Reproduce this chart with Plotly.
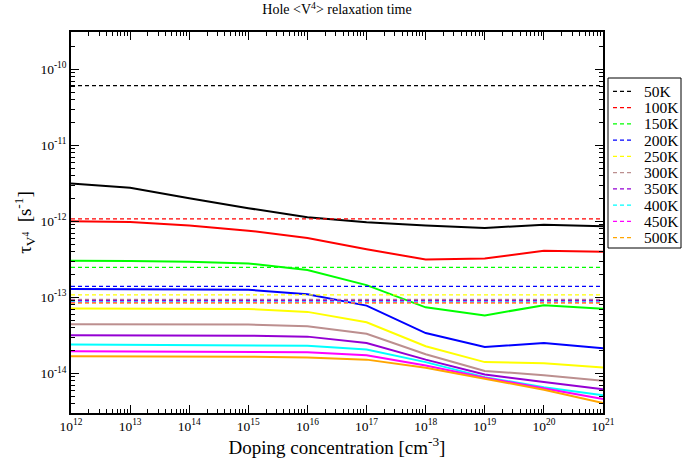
import plotly.graph_objects as go

doping = [1e12, 1e13, 1e14, 1e15, 1e16, 1e17, 1e18, 1e19, 1e20, 1e21]
temps = ["50K", "100K", "150K", "200K", "250K", "300K", "350K", "400K", "450K", "500K"]
colors = ["#000000", "#ff0000", "#00ff00", "#0000ff", "#ffff00",
          "#bc8f8f", "#9400d3", "#00ffff", "#ff00ff", "#ffa500"]

# solid curves: relaxation time vs doping
tau_doped = {
    "50K":  [3.14e-12, 2.76e-12, 2.02e-12, 1.49e-12, 1.13e-12, 9.7e-13, 8.8e-13, 8.2e-13, 9.05e-13, 8.6e-13],
    "100K": [1.0e-12, 9.8e-13, 8.8e-13, 7.55e-13, 6.05e-13, 4.3e-13, 3.15e-13, 3.25e-13, 4.1e-13, 3.98e-13],
    "150K": [3.03e-13, 3.02e-13, 2.94e-13, 2.8e-13, 2.29e-13, 1.45e-13, 7.4e-14, 5.8e-14, 7.9e-14, 7.1e-14],
    "200K": [1.29e-13, 1.28e-13, 1.27e-13, 1.26e-13, 1.1e-13, 7.8e-14, 3.4e-14, 2.23e-14, 2.52e-14, 2.14e-14],
    "250K": [7.15e-14, 7.12e-14, 7.1e-14, 7.05e-14, 6.45e-14, 4.7e-14, 2.28e-14, 1.41e-14, 1.36e-14, 1.2e-14],
    "300K": [4.45e-14, 4.45e-14, 4.42e-14, 4.4e-14, 4.16e-14, 3.33e-14, 1.79e-14, 1.08e-14, 9.5e-15, 8.0e-15],
    "350K": [3.17e-14, 3.16e-14, 3.15e-14, 3.14e-14, 3.05e-14, 2.52e-14, 1.52e-14, 9.7e-15, 7.7e-15, 6.2e-15],
    "400K": [2.41e-14, 2.4e-14, 2.39e-14, 2.38e-14, 2.32e-14, 2.06e-14, 1.41e-14, 8.95e-15, 6.6e-15, 5.15e-15],
    "450K": [1.96e-14, 1.95e-14, 1.94e-14, 1.93e-14, 1.9e-14, 1.74e-14, 1.27e-14, 8.8e-15, 6.3e-15, 4.6e-15],
    "500K": [1.68e-14, 1.68e-14, 1.67e-14, 1.66e-14, 1.62e-14, 1.52e-14, 1.19e-14, 8.5e-15, 6.1e-15, 4.1e-15],
}

# dashed lines: undoped (constant) relaxation time
tau_undoped = [6.1e-11, 1.08e-12, 2.48e-13, 1.40e-13, 1.08e-13,
               9.4e-14, 9.1e-14, 8.8e-14, 8.6e-14, 8.4e-14]

x_tickvals = [1e12, 1e13, 1e14, 1e15, 1e16, 1e17, 1e18, 1e19, 1e20, 1e21]
x_ticktext = ["10<sup>12</sup>", "10<sup>13</sup>", "10<sup>14</sup>", "10<sup>15</sup>",
              "10<sup>16</sup>", "10<sup>17</sup>", "10<sup>18</sup>", "10<sup>19</sup>",
              "10<sup>20</sup>", "10<sup>21</sup>"]
y_tickvals = [1e-15, 1e-14, 1e-13, 1e-12, 1e-11, 1e-10]
y_ticktext = ["10<sup>-15</sup>", "10<sup>-14</sup>", "10<sup>-13</sup>", "10<sup>-12</sup>",
              "10<sup>-11</sup>", "10<sup>-10</sup>"]

x_minor = [m * d for d in x_tickvals[:-1] for m in range(2, 10)]
y_minor = [m * d for d in y_tickvals for m in range(2, 10)]

FONT = "Liberation Serif"

W, H = 682, 464
plot_l, plot_r, plot_t, plot_b = 71, 603, 32, 413
pw, ph = plot_r - plot_l, plot_b - plot_t

fig = go.Figure()

for t, c in zip(temps, colors):
    fig.add_trace(go.Scatter(x=doping, y=tau_doped[t], mode="lines",
                             line=dict(color=c, width=2), showlegend=False,
                             name=t + " doped"))

for t, c, v in zip(temps, colors, tau_undoped):
    fig.add_trace(go.Scatter(x=[doping[0], doping[-1]], y=[v, v], mode="lines",
                             line=dict(color=c, width=1.3, dash="4px,3px"),
                             name=t, showlegend=False))

axis_common = dict(type="log", showline=True, linecolor="black", linewidth=1.5,
                   mirror="ticks", ticks="inside", ticklen=8, tickwidth=1.2,
                   tickcolor="black", showgrid=False, zeroline=False, automargin=False,
                   tickfont=dict(family=FONT, size=13.5, color="black"))


def px(x):
    return (x - plot_l) / pw


def py(y):
    return (plot_b - y) / ph


shapes = [dict(type="rect", xref="paper", yref="paper",
               x0=px(608), x1=px(681), y0=py(248), y1=py(78),
               line=dict(color="black", width=1), fillcolor="white", layer="above")]
annotations = []
for i, (t, c) in enumerate(zip(temps, colors)):
    yy = 91.3 + i * 16.25
    shapes.append(dict(type="line", xref="paper", yref="paper",
                       x0=px(613), x1=px(634), y0=py(yy), y1=py(yy),
                       line=dict(color=c, width=1.3, dash="4px,3px"), layer="above"))
    annotations.append(dict(text=t, xref="paper", yref="paper", x=px(642), y=py(yy),
                            xanchor="left", yanchor="middle", showarrow=False,
                            font=dict(family=FONT, size=15.5, color="black")))

fig.update_layout(
    width=W, height=H,
    margin=dict(l=plot_l, r=W - plot_r, t=plot_t, b=H - plot_b, autoexpand=False),
    paper_bgcolor="white", plot_bgcolor="white",
    font=dict(family=FONT, color="black"),
    showlegend=False,
    title=dict(text="Hole &lt;V<sup>4</sup>&gt; relaxation time",
               font=dict(family=FONT, size=14, color="black"),
               x=0.5, xanchor="center", xref="paper", y=0.99, yanchor="top"),
    xaxis=dict(axis_common, range=[12, 21], tickmode="array",
               tickvals=x_tickvals, ticktext=x_ticktext,
               minor=dict(ticks="inside", ticklen=4, tickwidth=1, tickcolor="black",
                          tickmode="array", tickvals=x_minor, showgrid=False),
               title=dict(text="Doping concentration [cm<sup>-3</sup>]",
                          font=dict(family=FONT, size=19, color="black"),
                          standoff=6)),
    yaxis=dict(axis_common, range=[-14.52, -9.51], tickmode="array",
               tickvals=y_tickvals, ticktext=y_ticktext,
               minor=dict(ticks="inside", ticklen=4, tickwidth=1, tickcolor="black",
                          tickmode="array", tickvals=y_minor, showgrid=False),
               title=dict(text="τ<sub>V<sup>4</sup></sub>  [s<sup>-1</sup>]",
                          font=dict(family=FONT, size=19, color="black"),
                          standoff=4)),
    shapes=shapes,
    annotations=annotations,
)

# remove the default page margin and scrollbars so the figure fills the window
fig.write_html(
    "out.html",
    config={"displayModeBar": False},
    post_script="document.documentElement.style.overflow='hidden';"
                "document.body.style.overflow='hidden';"
                "document.body.style.margin='0';",
)
